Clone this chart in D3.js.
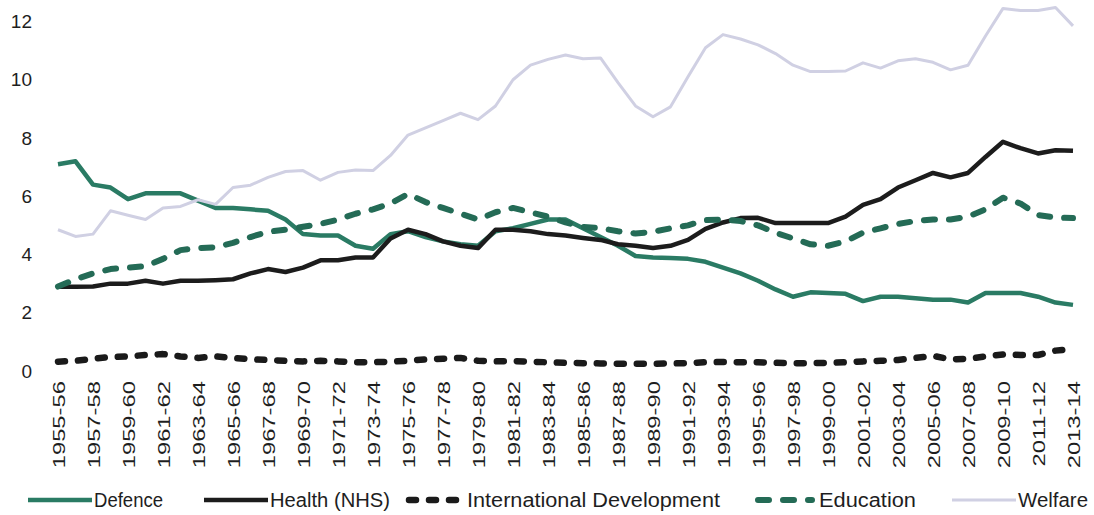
<!DOCTYPE html>
<html>
<head>
<meta charset="utf-8">
<script src="https://cdn.jsdelivr.net/npm/d3@7/dist/d3.min.js"></script>
<style>
  html, body { margin: 0; padding: 0; background: #ffffff; }
  svg { display: block; font-family: "Liberation Sans", Arial, sans-serif; }
</style>
</head>
<body>
<svg id="chart" width="1094" height="515"></svg>
<script>
// ---- data ----
const categories = [
  "1955-56","1956-57","1957-58","1958-59","1959-60","1960-61","1961-62","1962-63","1963-64","1964-65",
  "1965-66","1966-67","1967-68","1968-69","1969-70","1970-71","1971-72","1972-73","1973-74","1974-75",
  "1975-76","1976-77","1977-78","1978-79","1979-80","1980-81","1981-82","1982-83","1983-84","1984-85",
  "1985-86","1986-87","1987-88","1988-89","1989-90","1990-91","1991-92","1992-93","1993-94","1994-95",
  "1995-96","1996-97","1997-98","1998-99","1999-00","2000-01","2001-02","2002-03","2003-04","2004-05",
  "2005-06","2006-07","2007-08","2008-09","2009-10","2010-11","2011-12","2012-13","2013-14"
];

const defence = [
  7.1, 7.2, 6.4, 6.3, 5.9, 6.1, 6.1, 6.1, 5.85, 5.6,
  5.6, 5.55, 5.5, 5.2, 4.7, 4.65, 4.65, 4.3, 4.2, 4.7,
  4.8, 4.6, 4.45, 4.35, 4.3, 4.8, 4.9, 5.05, 5.2, 5.2,
  4.9, 4.6, 4.3, 3.95, 3.9, 3.88, 3.85, 3.75, 3.55, 3.35,
  3.1, 2.8, 2.55, 2.7, 2.68, 2.65, 2.4, 2.55, 2.55, 2.5,
  2.45, 2.45, 2.35, 2.68, 2.68, 2.68, 2.55, 2.35, 2.27
];

const health = [
  2.89, 2.89, 2.9, 3.0, 3.0, 3.1, 3.0, 3.1, 3.1, 3.12,
  3.15, 3.35, 3.5, 3.4, 3.55, 3.8, 3.8, 3.9, 3.9, 4.55,
  4.85, 4.7, 4.45, 4.3, 4.22, 4.85, 4.85, 4.8, 4.7, 4.65,
  4.57, 4.5, 4.35, 4.3, 4.22, 4.3, 4.5, 4.88, 5.1, 5.25,
  5.26, 5.08, 5.08, 5.08, 5.08, 5.3, 5.7, 5.9, 6.3, 6.55,
  6.8, 6.65, 6.8, 7.35, 7.87, 7.65, 7.47, 7.58, 7.56
];

const internationalDevelopment = [
  0.32, 0.35, 0.42, 0.48, 0.5, 0.55, 0.58, 0.5, 0.45, 0.5,
  0.45, 0.4, 0.38, 0.35, 0.33, 0.35, 0.33, 0.3, 0.3, 0.32,
  0.35, 0.4, 0.42, 0.45, 0.35, 0.33, 0.34, 0.32, 0.3, 0.28,
  0.27, 0.26, 0.25, 0.25, 0.25, 0.26, 0.27, 0.3, 0.31, 0.3,
  0.3, 0.28, 0.27, 0.27, 0.28, 0.3, 0.33, 0.35, 0.38, 0.45,
  0.52, 0.4, 0.42, 0.5, 0.57, 0.55, 0.55, 0.7, 0.76
];

const education = [
  2.9, 3.15, 3.35, 3.5, 3.55, 3.6, 3.85, 4.15, 4.22, 4.25,
  4.4, 4.6, 4.78, 4.85, 4.95, 5.05, 5.2, 5.4, 5.55, 5.75,
  6.08, 5.8, 5.6, 5.4, 5.2, 5.45, 5.6, 5.45, 5.3, 5.1,
  4.95, 4.9, 4.8, 4.72, 4.78, 4.9, 5.0, 5.18, 5.2, 5.15,
  5.0, 4.75, 4.55, 4.35, 4.3, 4.45, 4.75, 4.9, 5.05, 5.15,
  5.2, 5.2, 5.3, 5.55, 5.95, 5.75, 5.35, 5.27, 5.25
];

const welfare = [
  4.85, 4.62, 4.7, 5.5, 5.35, 5.2, 5.6, 5.65, 5.88, 5.72,
  6.3, 6.38, 6.65, 6.85, 6.88, 6.55, 6.82, 6.9, 6.88, 7.4,
  8.1, 8.35, 8.6, 8.85, 8.63, 9.1, 10.0, 10.5, 10.7, 10.85,
  10.72, 10.75, 9.9, 9.1, 8.73, 9.07, 10.1, 11.1, 11.55, 11.4,
  11.2, 10.9, 10.5, 10.28, 10.28, 10.3, 10.58, 10.4, 10.65, 10.72,
  10.6, 10.34, 10.5, 11.5, 12.45, 12.38, 12.38, 12.48, 11.85
];

const yTicks = [0, 2, 4, 6, 8, 10, 12];
const seriesNames = ["Defence", "Health (NHS)", "International Development", "Education", "Welfare"];

// ---- styles / layout ----
const styles = {
  "Defence":                   { color: "#2a7b64", width: 4.5, dash: null,    cap: "butt" },
  "Health (NHS)":              { color: "#1c1c1c", width: 4.5, dash: null,    cap: "butt" },
  "International Development": { color: "#1a1a1a", width: 6.5, dash: "7,13",  cap: "round" },
  "Education":                 { color: "#246b56", width: 6,   dash: "11,14", cap: "round" },
  "Welfare":                   { color: "#d0d0e3", width: 3,   dash: null,    cap: "butt" }
};
const seriesValues = [defence, health, internationalDevelopment, education, welfare];

const svg = d3.select("#chart");
const x = d3.scalePoint().domain(categories).range([58, 1073]);
const y = d3.scaleLinear().domain([0, 12]).range([371, 21.5]);

// y axis
const yAxis = svg.append("g")
  .attr("transform", "translate(58,0)")
  .call(d3.axisLeft(y).tickValues(yTicks).tickSize(0).tickPadding(26));
yAxis.select(".domain").remove();
yAxis.selectAll("text")
  .attr("font-size", 19)
  .attr("font-family", "Liberation Sans, Arial, sans-serif")
  .attr("fill", "#1e1e1e");

// x axis
const xAxis = svg.append("g")
  .attr("transform", "translate(0,381)")
  .call(d3.axisBottom(x).tickValues(categories.filter((d, i) => i % 2 === 0)).tickSize(0).tickPadding(0));
xAxis.select(".domain").remove();
xAxis.selectAll("text")
  .attr("font-size", 17)
  .attr("font-family", "Liberation Sans, Arial, sans-serif")
  .attr("fill", "#1e1e1e")
  .attr("text-anchor", "end")
  .attr("dy", "0.38em")
  .attr("y", 0)
  .attr("transform", "rotate(-90) scale(1.4,1)");

// lines
const line = d3.line().x((d, i) => x(categories[i])).y(d => y(d));
seriesNames.forEach((name, k) => {
  const s = styles[name];
  svg.append("path")
    .datum(seriesValues[k])
    .attr("fill", "none")
    .attr("stroke", s.color)
    .attr("stroke-width", s.width)
    .attr("stroke-linejoin", "round")
    .attr("stroke-linecap", s.cap)
    .attr("stroke-dasharray", s.dash)
    .attr("d", line);
});

// legend
const legendLayout = [
  { x1: 28,  x2: 92,  tx: 94,   tw: 69 },
  { x1: 204, x2: 268, tx: 270,  tw: 120 },
  { x1: 409, x2: 462, tx: 467,  tw: 253 },
  { x1: 758, x2: 812, tx: 819,  tw: 97 },
  { x1: 952, x2: 1016, tx: 1018, tw: 70 }
];
const legend = svg.append("g").attr("transform", "translate(0,500)");
seriesNames.forEach((name, k) => {
  const s = styles[name];
  const L = legendLayout[k];
  legend.append("line")
    .attr("x1", L.x1).attr("x2", L.x2).attr("y1", 0).attr("y2", 0)
    .attr("stroke", s.color)
    .attr("stroke-width", s.width)
    .attr("stroke-linecap", s.cap)
    .attr("stroke-dasharray", s.dash);
  legend.append("text")
    .attr("x", L.tx).attr("y", 0).attr("dy", "0.36em")
    .attr("font-size", 20)
    .attr("textLength", L.tw)
    .attr("lengthAdjust", "spacingAndGlyphs")
    .attr("fill", "#1e1e1e")
    .text(name);
});
</script>
</body>
</html>
